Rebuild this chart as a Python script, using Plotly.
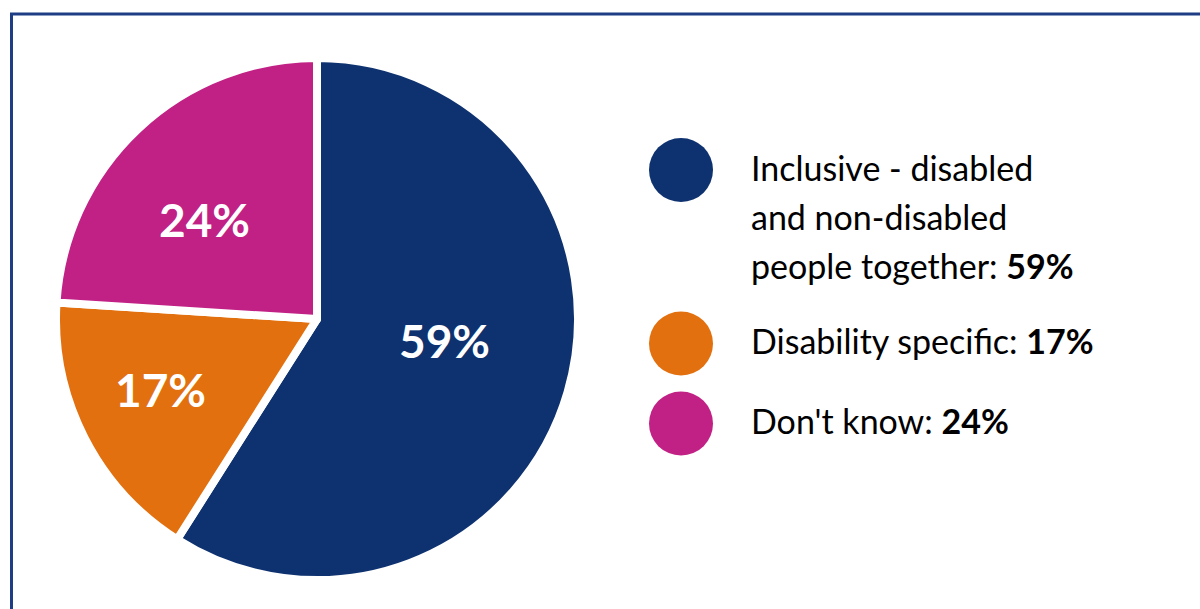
import math
import plotly.graph_objects as go

# Survey answers and their shares (%)
labels = [
    "Inclusive - disabled\nand non-disabled\npeople together",
    "Disability specific",
    "Don't know",
]
values = [59, 17, 24]
colors = ["#0E3270", "#E2700F", "#C12084"]

W, H = 1200, 609
FONT = "Lato"

# pie geometry in pixels
cx, cy, r = 317, 319, 261
gap = 8
# where each percentage sits: fraction of radius, angular nudge off the bisector (deg)
label_pos = [(0.494, -6.4), (0.66, 2.7), (0.573, -5.3)]


def px(x):
    return x / W


def py(y):
    return 1 - y / H


fig = go.Figure(
    go.Pie(
        labels=[lab.replace("\n", " ") for lab in labels],
        values=values,
        sort=False,
        direction="clockwise",
        rotation=0,
        marker=dict(colors=colors, line=dict(color="white", width=gap)),
        textinfo="none",
        hovertemplate="%{label}: %{value}%<extra></extra>",
        domain=dict(x=[px(cx - r), px(cx + r)], y=[py(cy + r), py(cy - r)]),
        showlegend=False,
    )
)

annotations = []
shapes = []

# percentage labels inside the slices
total = sum(values)
start = 0.0
for v, (f, nudge) in zip(values, label_pos):
    mid = (start + v / 2) / total * 360 + nudge
    start += v
    a = math.radians(mid)
    lx = cx + f * r * math.sin(a)
    ly = cy - f * r * math.cos(a)
    annotations.append(
        dict(
            x=px(lx), y=py(ly), xref="paper", yref="paper",
            text=f"<b>{v}%</b>", showarrow=False,
            xanchor="center", yanchor="middle",
            font=dict(family=FONT, size=46, color="white", weight=800),
        )
    )

# custom legend: coloured dots with wrapped text
dot_x, dot_r = 681, 32
text_x = 749
line_h = 49
dot_y = [170, 343.5, 423.5]
for lab, v, col, y0 in zip(labels, values, colors, dot_y):
    shapes.append(
        dict(
            type="circle", xref="paper", yref="paper",
            x0=px(dot_x - dot_r), x1=px(dot_x + dot_r),
            y0=py(y0 + dot_r), y1=py(y0 - dot_r),
            fillcolor=col, line=dict(width=0),
        )
    )
    lines = lab.split("\n")
    for i, line in enumerate(lines):
        txt = line
        if i == len(lines) - 1:
            txt += f": <b>{v}%</b>"
        annotations.append(
            dict(
                x=px(text_x), y=py(y0 - 3 + i * line_h), xref="paper", yref="paper",
                text=txt, showarrow=False,
                xanchor="left", yanchor="middle",
                font=dict(family=FONT, size=34, color="black"),
            )
        )

# frame around the chart
shapes.append(
    dict(
        type="rect", xref="paper", yref="paper",
        x0=px(11.5), x1=px(W + 20), y0=py(H + 20), y1=py(14),
        line=dict(color="#1E3D85", width=3), fillcolor="rgba(0,0,0,0)",
    )
)

fig.update_layout(
    width=W, height=H,
    margin=dict(l=0, r=0, t=0, b=0),
    paper_bgcolor="white", plot_bgcolor="white",
    annotations=annotations, shapes=shapes,
)

fig.write_html("out.html")
